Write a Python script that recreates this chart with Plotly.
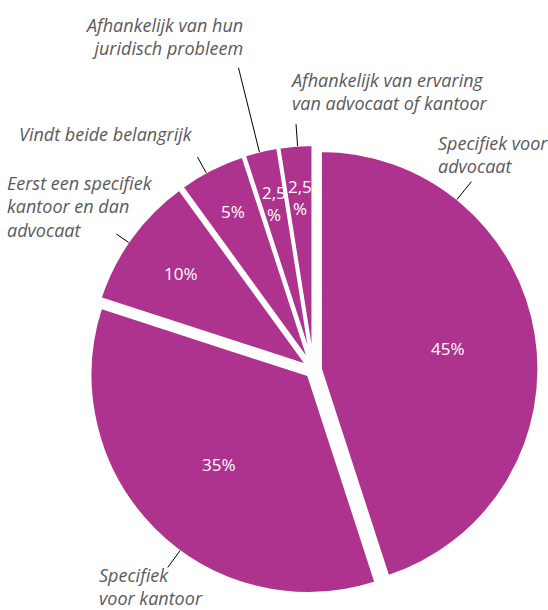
import math
import plotly.graph_objects as go

# ---------------- data ----------------
categories = [
    "Specifiek voor advocaat",
    "Specifiek voor kantoor",
    "Eerst een specifiek kantoor en dan advocaat",
    "Vindt beide belangrijk",
    "Afhankelijk van hun juridisch probleem",
    "Afhankelijk van ervaring van advocaat of kantoor",
]
values = [45, 35, 10, 5, 2.5, 2.5]
value_labels = ["45%", "35%", "10%", "5%", "2,5<br>%", "2,5<br>%"]
outside_labels = [
    "Specifiek voor<br>advocaat",
    "Specifiek<br>voor kantoor",
    "Eerst een specifiek<br>kantoor en dan<br>advocaat",
    "Vindt beide belangrijk",
    "Afhankelijk van hun<br>juridisch probleem",
    "Afhankelijk van ervaring<br>van advocaat of kantoor",
]

# ---------------- layout / style ----------------
W, H = 548, 610
CX, CY = 313.5, 370.0        # pie centre in pixels (from top-left)
R = 218.5                    # pie radius in pixels
PULL = 0.032
PURPLE = "#AE338F"
GREY = "#5A5A5A"
LABEL_FONT = "Open Sans, sans-serif"

half = R * (1 + PULL)
dom_x = [(CX - half) / W, (CX + half) / W]
dom_y = [(H - CY - half) / H, (H - CY + half) / H]

fig = go.Figure(go.Pie(
    labels=categories,
    values=values,
    sort=False,
    direction="clockwise",
    rotation=0,
    pull=[PULL] * len(values),
    marker=dict(colors=[PURPLE] * len(values), line=dict(color="white", width=3)),
    textinfo="none",
    hoverinfo="label+percent",
    showlegend=False,
    domain=dict(x=dom_x, y=dom_y),
))


def px_to_paper(x, y):
    return x / W, 1 - y / H


total = sum(values)
starts = []
acc = 0.0
for v in values:
    starts.append(acc)
    acc += v

# inside value labels: radial fraction of the radius
inside_frac = [0.59, 0.58, 0.72, 0.78, 0.75, 0.76]
# leader anchor: fraction along the slice's arc, and leader length in px
anchor_frac = [0.24, 0.43, 0.46, 0.41, 0.45, 0.55]
leader_len = [23, 21, 15, 18, 87, 22]
# outside text block centres (px) and alignment
text_pos = [(493, 155), (151, 586), (80, 206), (106, 134), (164, 36), (389, 91)]
text_align = ["left", "left", "left", "left", "right", "left"]

annotations = []
shapes = []
for i, v in enumerate(values):
    a0 = starts[i] / total * 360
    a1 = (starts[i] + v) / total * 360
    mid = math.radians((a0 + a1) / 2)
    # slice centre after pull
    sx = CX + PULL * R * math.sin(mid)
    sy = CY - PULL * R * math.cos(mid)

    # value label
    f = inside_frac[i]
    lx = sx + f * R * math.sin(mid)
    ly = sy - f * R * math.cos(mid)
    px, py = px_to_paper(lx, ly)
    annotations.append(dict(
        x=px, y=py, xref="paper", yref="paper", text=value_labels[i],
        showarrow=False, xanchor="center", yanchor="middle",
        font=dict(family="Open Sans, sans-serif", size=17, color="white"),
    ))

    # leader line
    phi = math.radians(a0 + anchor_frac[i] * (a1 - a0))
    x0 = sx + (R - 1) * math.sin(phi)
    y0 = sy - (R - 1) * math.cos(phi)
    x1 = x0 + leader_len[i] * math.sin(phi)
    y1 = y0 - leader_len[i] * math.cos(phi)
    p0 = px_to_paper(x0, y0)
    p1 = px_to_paper(x1, y1)
    shapes.append(dict(type="line", xref="paper", yref="paper",
                       x0=p0[0], y0=p0[1], x1=p1[0], y1=p1[1],
                       line=dict(color="black", width=1)))

    # outside label
    tx, ty = px_to_paper(*text_pos[i])
    annotations.append(dict(
        x=tx, y=ty, xref="paper", yref="paper", text=outside_labels[i],
        showarrow=False, xanchor="center", yanchor="middle", align=text_align[i],
        font=dict(family=LABEL_FONT, size=18, color=GREY, style="italic"),
    ))

fig.update_layout(
    width=W, height=H,
    margin=dict(l=0, r=0, t=0, b=0),
    paper_bgcolor="white",
    plot_bgcolor="white",
    annotations=annotations,
    shapes=shapes,
)

fig.write_html(
    "out.html",
    config={"displayModeBar": False},
    post_script="document.body.style.margin='0px';document.body.style.overflow='hidden';",
)
